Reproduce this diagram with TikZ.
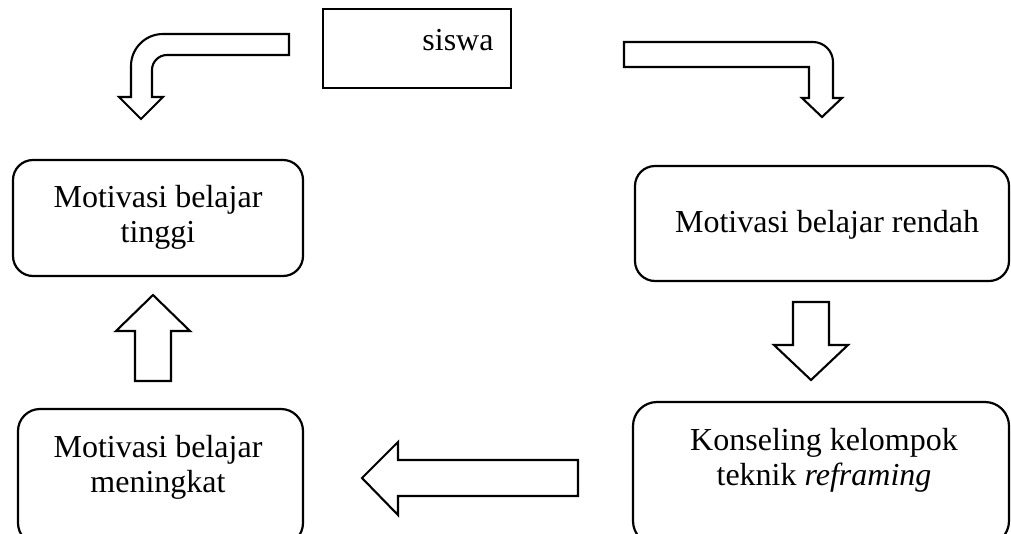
\documentclass[tikz,border=0pt]{standalone}
\usepackage{fontspec}
\setmainfont{Liberation Serif}
\usepackage{tikz}
\usetikzlibrary{positioning}
\newcommand{\duabaris}[2]{\begin{tabular}[t]{@{}c@{}}#1\\#2\end{tabular}}
\tikzset{
  kotak/.style={rectangle, draw=black, line width=2.6pt, inner sep=0pt},
  bulat/.style={rectangle, rounded corners=20pt, draw=black,
    line width=2.2pt, inner sep=0pt},
  teks/.style={font=\fontsize{32}{35}\selectfont, inner sep=0pt,
    anchor=base, text=black},
  panah/.style={draw=black, line width=2.1pt, fill=white, line join=miter},
}
\begin{document}
\begin{tikzpicture}[x=1pt, y=-1pt]
  \useasboundingbox (0,0) rectangle (1011,533);
  % kotak
  \node[kotak, minimum width=188pt, minimum height=79pt] (siswa) at (417,48.5) {};
  \node[bulat, minimum width=290pt, minimum height=116pt] (tinggi) at (158,218) {};
  \node[bulat, minimum width=374pt, minimum height=115pt] (rendah) at (822,223.5) {};
  \node[bulat, rounded corners=24pt, minimum width=376pt, minimum height=143pt]
    (konseling) at (821,473.5) {};
  \node[bulat, rounded corners=22pt, minimum width=285pt, minimum height=136pt]
    (meningkat) at (160.5,477) {};
  % teks
  \node[teks] (siswa-t) at (458,50) {siswa};
  \node[teks] (tinggi-t) at (158,207) {\duabaris{Motivasi belajar}{tinggi}};
  \node[teks] (rendah-t) at (827,232) {Motivasi belajar rendah};
  \node[teks] (konseling-t) at (824,450)
    {\duabaris{Konseling kelompok}{teknik \textit{reframing}}};
  \node[teks] (meningkat-t) at (158,457) {\duabaris{Motivasi belajar}{meningkat}};
  % panah blok
  \draw[panah] (289,34) -- (163,34) .. controls (145.3,34) and (131,48.3) .. (131,66)
    -- (131,97) -- (119,97) -- (141,119) -- (163,97) -- (152,97) -- (152,70)
    .. controls (152,61.7) and (158.7,55) .. (167,55) -- (289,55) -- cycle;
  \draw[panah] (624,42) -- (813,42) .. controls (824,42) and (833,51) .. (833,62)
    -- (833,98) -- (842,98) -- (822,117) -- (802,98) -- (809,98) -- (809,67)
    -- (624,67) -- cycle;
  \draw[panah] (793,302) -- (829,302) -- (829,345) -- (848,345) -- (811,380)
    -- (774,345) -- (793,345) -- cycle;
  \draw[panah] (578,460) -- (398,460) -- (398,442) -- (362,478) -- (398,515)
    -- (398,496) -- (578,496) -- cycle;
  \draw[panah] (135,381) -- (135,331) -- (116,331) -- (153,295) -- (190,331)
    -- (171,331) -- (171,381) -- cycle;
\end{tikzpicture}
\end{document}
